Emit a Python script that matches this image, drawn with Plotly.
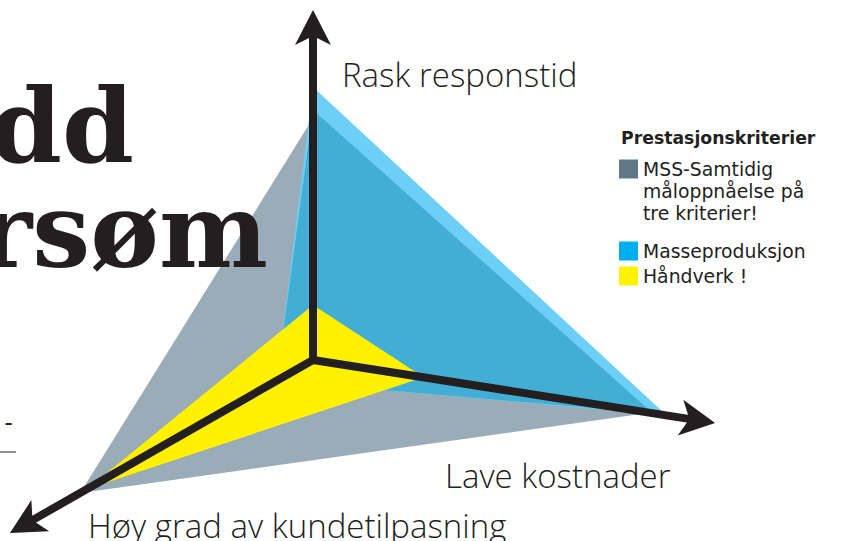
import numpy as np
import plotly.graph_objects as go

# ---- data -------------------------------------------------------------
axis_names = ["Rask responstid", "Lave kostnader", "Høy grad av kundetilpasning"]
series_names = ["MSS-Samtidig<br>måloppnåelse på<br>tre kriterier!", "Masseproduksjon", "Håndverk !"]
# extent of each series along the three axes (up, right, lower-left)
mss_values = [242, 341, 268]
masse_values = [250, 344, 42]
masse_highlight_values = [273, 358, 42]
handverk_values = [55, 112, 260]
axis_lengths = [350, 407, 349]
legend_title = "Prestasjonskriterier"

# ---- geometry ---------------------------------------------------------
W, H = 848, 541
origin = np.array([313.0, 360.0])
dirs = [np.array([0.0, -1.0]), np.array([402.0, 63.0]), np.array([-303.0, 173.0])]
dirs = [d / np.linalg.norm(d) for d in dirs]


def pts(vals):
    p = [origin + v * d for v, d in zip(vals, dirs)]
    xs = [q[0] for q in p] + [p[0][0]]
    ys = [q[1] for q in p] + [p[0][1]]
    return xs, ys


fig = go.Figure()
ink = "#231f20"

for vals, col in [(mss_values, "#9aacb7"), (masse_highlight_values, "#6dcff6"),
                  (masse_values, "#43aed5"), (handverk_values, "#fff100")]:
    xs, ys = pts(vals)
    fig.add_trace(go.Scatter(x=xs, y=ys, mode="lines", fill="toself", fillcolor=col,
                             line=dict(width=0, color=col), showlegend=False, hoverinfo="skip"))

# axes with arrow heads
for d, L in zip(dirs, axis_lengths):
    n = np.array([-d[1], d[0]])
    tip = origin + L * d
    shaft_end = tip - 22 * d
    fig.add_trace(go.Scatter(x=[origin[0], shaft_end[0]], y=[origin[1], shaft_end[1]], mode="lines",
                             line=dict(color=ink, width=8), showlegend=False, hoverinfo="skip"))
    b1 = tip - 35 * d + 18 * n
    b2 = tip - 35 * d - 18 * n
    notch = tip - 26 * d
    fig.add_trace(go.Scatter(x=[tip[0], b1[0], notch[0], b2[0], tip[0]],
                             y=[tip[1], b1[1], notch[1], b2[1], tip[1]],
                             mode="lines", fill="toself", fillcolor=ink, line=dict(width=0, color=ink),
                             showlegend=False, hoverinfo="skip"))

lab_font = dict(family="Open Sans", size=33, color=ink, weight=300)
annotations = [
    dict(x=340, y=74, text=axis_names[0], xanchor="left", yanchor="middle"),
    dict(x=673, y=475, text=axis_names[1], xanchor="right", yanchor="middle"),
    dict(x=86, y=525, text=axis_names[2], xanchor="left", yanchor="middle"),
]
for a in annotations:
    a.update(xref="x", yref="y", showarrow=False, font=lab_font)

# background headline fragments
big_font = dict(family="DejaVu Serif", size=103, color=ink, weight=900)
annotations += [
    dict(x=136, y=125, text="dd", xanchor="right", yanchor="middle", font=big_font,
         height=100, valign="middle"),
    dict(x=270, y=230, text="rsøm", xanchor="right", yanchor="middle", font=big_font,
         height=100, valign="middle"),
    dict(x=14, y=423, text="-", xanchor="right", yanchor="middle",
         font=dict(family="Roboto", size=26, color=ink)),
]
for a in annotations[3:]:
    a.update(xref="x", yref="y", showarrow=False)

# legend
leg_font = dict(family="DejaVu Sans", size=18.8, color=ink, weight=400)
annotations.append(dict(x=619, y=138, xref="x", yref="y", text="<b>" + legend_title + "</b>",
                        xanchor="left", yanchor="middle", showarrow=False,
                        font=dict(family="DejaVu Sans", size=17.3, color=ink, weight=700)))
leg_colors = ["#607886", "#00aeef", "#fff200"]
leg_y = [169, 251, 276]
shapes = []
for name, col, y in zip(series_names, leg_colors, leg_y):
    shapes.append(dict(type="rect", xref="x", yref="y", x0=619, x1=638, y0=y - 9.5, y1=y + 9.5,
                       fillcolor=col, line=dict(width=0)))
    for i, line in enumerate(name.split("<br>")):
        annotations.append(dict(x=641, y=y + 22 * i, xref="x", yref="y", text=line, xanchor="left",
                                yanchor="middle", align="left", showarrow=False, font=leg_font))
shapes.append(dict(type="line", xref="x", yref="y", x0=0, x1=16, y0=452, y1=452,
                   line=dict(color=ink, width=1)))

fig.update_layout(
    width=W, height=H, margin=dict(l=0, r=0, t=0, b=0),
    paper_bgcolor="white", plot_bgcolor="white",
    xaxis=dict(range=[0, W], visible=False, fixedrange=True),
    yaxis=dict(range=[H, 0], visible=False, fixedrange=True),
    annotations=annotations, shapes=shapes, showlegend=False,
)
fig.write_html("out.html", config={"displayModeBar": False},
               post_script="document.body.style.margin='0';document.body.style.overflow='hidden';")
